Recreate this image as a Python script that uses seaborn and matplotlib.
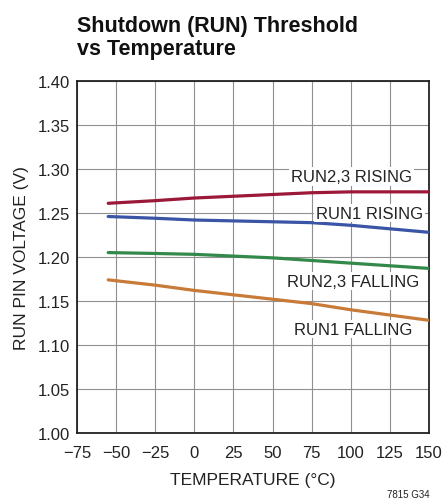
import matplotlib
matplotlib.use("Agg")
import matplotlib.pyplot as plt
import seaborn as sns
import pandas as pd

# data
temperature = [-55, -25, 0, 25, 50, 75, 100, 125, 150]
run23_rising = [1.261, 1.264, 1.267, 1.269, 1.271, 1.273, 1.274, 1.274, 1.274]
run1_rising = [1.246, 1.244, 1.242, 1.241, 1.240, 1.239, 1.236, 1.232, 1.228]
run23_falling = [1.205, 1.204, 1.203, 1.201, 1.199, 1.196, 1.193, 1.190, 1.187]
run1_falling = [1.174, 1.168, 1.162, 1.157, 1.152, 1.147, 1.140, 1.134, 1.128]

series_names = ["RUN2,3 RISING", "RUN1 RISING", "RUN2,3 FALLING", "RUN1 FALLING"]
series_colors = ["#9c1838", "#3a54a6", "#33894a", "#c87b38"]
# label anchors (right edge of text, in data units)
label_x = [139, 146, 143.5, 139]
label_y = [1.2915, 1.2497, 1.1725, 1.118]

x_ticks = [-75, -50, -25, 0, 25, 50, 75, 100, 125, 150]
y_ticks = [1.00, 1.05, 1.10, 1.15, 1.20, 1.25, 1.30, 1.35, 1.40]

df = pd.DataFrame({
    "temp": temperature * 4,
    "volt": run23_rising + run1_rising + run23_falling + run1_falling,
    "series": [n for n in series_names for _ in temperature],
})

sns.set_theme(style="white")
plt.rcParams["font.family"] = ["Liberation Sans Narrow", "Liberation Sans", "DejaVu Sans"]

fig = plt.figure(figsize=(4.47, 5.02), dpi=100)
ax = fig.add_axes([0.172, 0.1355, 0.788, 0.7012])

sns.lineplot(data=df, x="temp", y="volt", hue="series", hue_order=series_names,
             palette=series_colors, linewidth=2.3, legend=False, ax=ax, zorder=3)

ax.set_xlim(-75, 150)
ax.set_ylim(1.0, 1.4)
ax.set_xticks(x_ticks)
ax.set_yticks(y_ticks)
ax.set_xticklabels([str(t).replace("-", "\u2212") for t in x_ticks])
ax.set_yticklabels([f"{v:.2f}" for v in y_ticks])
ax.grid(True, color="#909090", linewidth=0.8)
ax.tick_params(length=0, labelsize=12, colors="#222222")
ax.tick_params(axis="x", pad=9)
ax.tick_params(axis="y", pad=5)
for s in ax.spines.values():
    s.set_color("#222222")
    s.set_linewidth(1.3)

ax.set_xlabel("TEMPERATURE (°C)", fontsize=12.5, color="#222222", labelpad=8)
ax.set_ylabel("RUN PIN VOLTAGE (V)", fontsize=12.5, color="#222222", labelpad=6)

for name, lx, ly in zip(series_names, label_x, label_y):
    ax.text(lx, ly, name, ha="right", va="center", fontsize=12, color="#222222",
            zorder=4, bbox=dict(facecolor="white", edgecolor="none", pad=1.2))

fig.text(0.172, 0.968, "Shutdown (RUN) Threshold\nvs Temperature", ha="left", va="top",
         fontsize=15.5, fontweight="bold", linespacing=1.1, color="#111111")
fig.text(0.962, 0.014, "7815 G34", ha="right", va="center", fontsize=7, color="#222222")

fig.savefig("out.png", dpi=100)
